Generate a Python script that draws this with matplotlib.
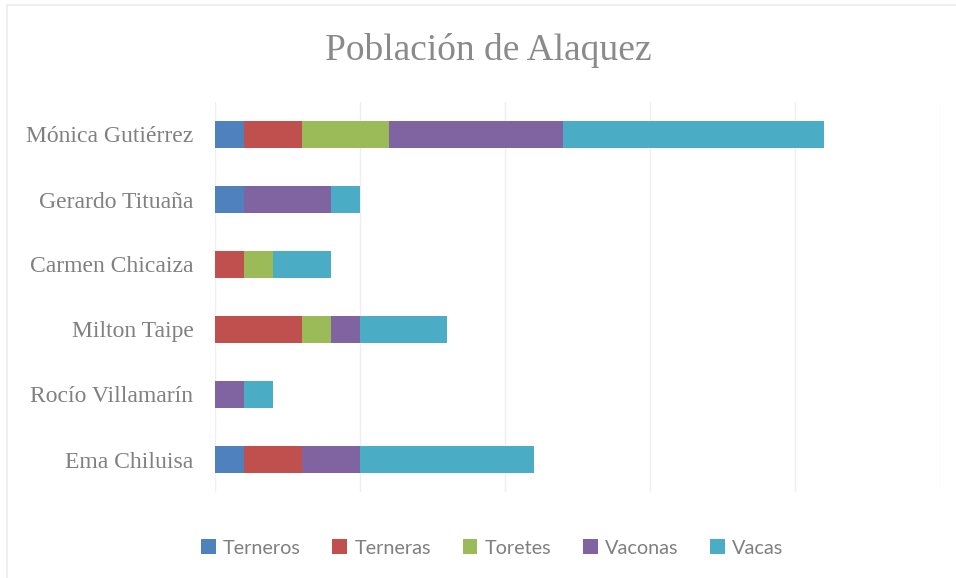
import matplotlib.pyplot as plt
from matplotlib.patches import Rectangle

# data
personas = ['Ema Chiluisa', 'Rocío Villamarín', 'Milton Taipe',
            'Carmen Chicaiza', 'Gerardo Tituaña', 'Mónica Gutiérrez']
terneros = [1, 0, 0, 0, 1, 1]
terneras = [2, 0, 3, 1, 0, 2]
toretes = [0, 0, 1, 1, 0, 3]
vaconas = [2, 1, 1, 0, 3, 6]
vacas = [6, 1, 3, 2, 1, 9]

series = [('Terneros', terneros, '#4F81BD'),
          ('Terneras', terneras, '#C0504D'),
          ('Toretes', toretes, '#9BBB59'),
          ('Vaconas', vaconas, '#8064A2'),
          ('Vacas', vacas, '#4BACC6')]

fig = plt.figure(figsize=(9.56, 5.78), dpi=100)
ax = fig.add_axes([215/956, 1-492/578, 725/956, 390/578])

# light chart border (right and bottom edges fall outside the image)
fig.patches.append(Rectangle((7/956, -0.05), 1.1, 1.05-5/578, transform=fig.transFigure,
                             fill=False, edgecolor='#ececec', lw=1.2))

left = [0] * len(personas)
y = list(range(len(personas)))
for name, vals, col in series:
    ax.barh(y, vals, left=left, height=0.43, color=col, label=name, zorder=3)
    left = [a + b for a, b in zip(left, vals)]

ax.set_xlim(0, 25)
ax.set_ylim(-0.5, len(personas) - 0.5)
ax.set_xticks(range(0, 26, 5))
ax.set_xticklabels([])
ax.tick_params(axis='both', length=0)
ax.grid(axis='x', color='#efefef', lw=1, zorder=0)
for s in ax.spines.values():
    s.set_visible(False)

ax.set_yticks(y)
ax.set_yticklabels(personas, family='Liberation Serif', fontsize=17, color='#808080')
ax.tick_params(axis='y', pad=15.5)

fig.text(488/956, 1-51/578, 'Población de Alaquez', ha='center', va='center',
         family='Liberation Serif', fontsize=27, color='#8a8a8a')

leg = fig.legend(loc='center', bbox_to_anchor=(492/956, 1-548/578), ncol=5,
                 frameon=False, prop={'family': 'Lato', 'size': 14.3},
                 handlelength=0.75, handleheight=0.75, handletextpad=0.35,
                 columnspacing=1.6)
for t in leg.get_texts():
    t.set_color('#7f7f7f')

fig.savefig('out.png', dpi=100)
